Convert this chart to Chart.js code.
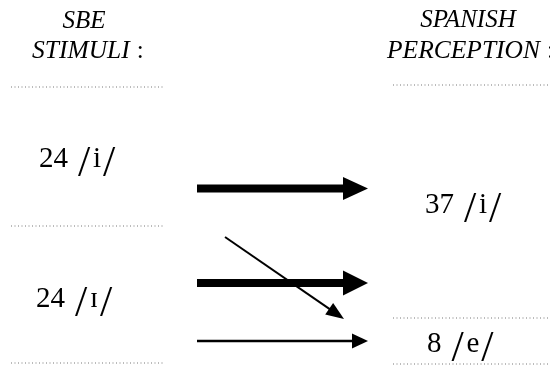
<!DOCTYPE html>
<html>
<head>
<meta charset="utf-8">
<script src="https://cdn.jsdelivr.net/npm/chart.js@4"></script>
<style>
  html, body { margin: 0; padding: 0; background: #ffffff; }
  #wrap { width: 550px; height: 365px; position: relative; }
</style>
</head>
<body>
<div id="wrap"><canvas id="c"></canvas></div>
<script>
// ---- data ----
const stimulusHeader = ['SBE', 'STIMULI'];
const perceptionHeader = ['SPANISH', 'PERCEPTION'];
const stimulusVowels = ['i', 'ɪ'];
const stimulusCounts = [24, 24];
const perceptionVowels = ['i', 'e'];
const perceptionCounts = [37, 8];
// flows: stimulus index -> perception index
const flowFrom = [0, 1, 1, 1];
const flowTo = [0, 0, 1, 1];

// ---- layout (diagram units = pixels of a 550x365 board) ----
const stimulusLabelPos = [[39, 167], [36, 307]];
const perceptionLabelPos = [[425, 213], [427, 352]];
const leftSeparatorsY = [87, 226, 363];
const rightSeparatorsY = [85, 318, 364];
const leftSepX = [11, 165];
const rightSepX = [393, 550];
const arrowStart = [[197, 188.5], [197, 283], [225, 237], [197, 341]];
const arrowTip = [[368, 188.5], [368, 283], [344, 319], [368, 341]];
const arrowWidth = [8, 8, 2, 2.5];
const arrowHeadLen = [25, 25, 18, 16];
const arrowHeadHalf = [11.5, 12.5, 7, 7.5];

const datasets = [];
leftSeparatorsY.forEach(y => datasets.push({
  data: [{x: leftSepX[0], y}, {x: leftSepX[1], y}],
  showLine: true, borderColor: '#777', borderWidth: 1, borderDash: [1, 2.5],
  pointRadius: 0
}));
rightSeparatorsY.forEach(y => datasets.push({
  data: [{x: rightSepX[0], y}, {x: rightSepX[1], y}],
  showLine: true, borderColor: '#777', borderWidth: 1, borderDash: [1, 2.5],
  pointRadius: 0
}));
arrowStart.forEach((s, i) => {
  const t = arrowTip[i];
  const dx = t[0] - s[0], dy = t[1] - s[1];
  const len = Math.hypot(dx, dy);
  const bx = t[0] - dx / len * (arrowHeadLen[i] - 2);
  const by = t[1] - dy / len * (arrowHeadLen[i] - 2);
  datasets.push({
    data: [{x: s[0], y: s[1]}, {x: bx, y: by}],
    showLine: true, borderColor: '#000', borderWidth: arrowWidth[i],
    borderCapStyle: 'butt', pointRadius: 0
  });
});

const serif = '"Liberation Serif", serif';

const diagramPlugin = {
  id: 'diagram',
  afterDatasetsDraw(chart) {
    const ctx = chart.ctx;
    const xs = chart.scales.x, ys = chart.scales.y;
    const px = v => xs.getPixelForValue(v);
    const py = v => ys.getPixelForValue(v);
    ctx.save();
    ctx.fillStyle = '#000';
    // arrowheads
    arrowTip.forEach((t, i) => {
      const s = arrowStart[i];
      const tx = px(t[0]), ty = py(t[1]);
      const sx = px(s[0]), sy = py(s[1]);
      const dx = tx - sx, dy = ty - sy;
      const len = Math.hypot(dx, dy);
      const ux = dx / len, uy = dy / len;
      const bx = tx - ux * arrowHeadLen[i], by = ty - uy * arrowHeadLen[i];
      const h = arrowHeadHalf[i];
      ctx.beginPath();
      ctx.moveTo(tx, ty);
      ctx.lineTo(bx - uy * h, by + ux * h);
      ctx.lineTo(bx + uy * h, by - ux * h);
      ctx.closePath();
      ctx.fill();
    });
    // headers
    ctx.textBaseline = 'alphabetic';
    ctx.font = 'italic 25px ' + serif;
    ctx.textAlign = 'center';
    ctx.fillText(stimulusHeader[0], px(84), py(28));
    ctx.fillText(perceptionHeader[0], px(468), py(27));
    ctx.textAlign = 'left';
    const drawHead = (word, x, y) => {
      ctx.font = 'italic 25.5px ' + serif;
      ctx.fillText(word, px(x), py(y));
      const w = ctx.measureText(word).width;
      ctx.font = '25px ' + serif;
      ctx.fillText(':', px(x) + w + 7, py(y));
    };
    drawHead(stimulusHeader[1], 32, 58);
    drawHead(perceptionHeader[1], 387, 58);
    // value labels
    const drawLabel = (count, vowel, x, y) => {
      let cx = px(x);
      const by = py(y);
      ctx.font = '29px ' + serif;
      const num = String(count);
      ctx.fillText(num, cx, by);
      cx += ctx.measureText(num).width + 10;
      ctx.font = '44px ' + serif;
      ctx.fillText('/', cx, by + 9);
      cx += 15;
      ctx.font = '29px ' + serif;
      ctx.fillText(vowel, cx, by);
      cx += ctx.measureText(vowel).width + 2;
      ctx.font = '44px ' + serif;
      ctx.fillText('/', cx, by + 9);
    };
    stimulusCounts.forEach((c, i) => drawLabel(c, stimulusVowels[i], stimulusLabelPos[i][0], stimulusLabelPos[i][1]));
    perceptionCounts.forEach((c, i) => drawLabel(c, perceptionVowels[i], perceptionLabelPos[i][0], perceptionLabelPos[i][1]));
    ctx.restore();
  }
};

new Chart(document.getElementById('c'), {
  type: 'scatter',
  data: { datasets },
  options: {
    responsive: true,
    maintainAspectRatio: false,
    animation: false,
    layout: { padding: 0 },
    plugins: { legend: { display: false }, tooltip: { enabled: false } },
    scales: {
      x: { type: 'linear', min: 0, max: 550, display: false },
      y: { type: 'linear', min: 0, max: 365, reverse: true, display: false }
    },
    elements: { line: { tension: 0 } }
  },
  plugins: [diagramPlugin]
});
</script>
</body>
</html>
